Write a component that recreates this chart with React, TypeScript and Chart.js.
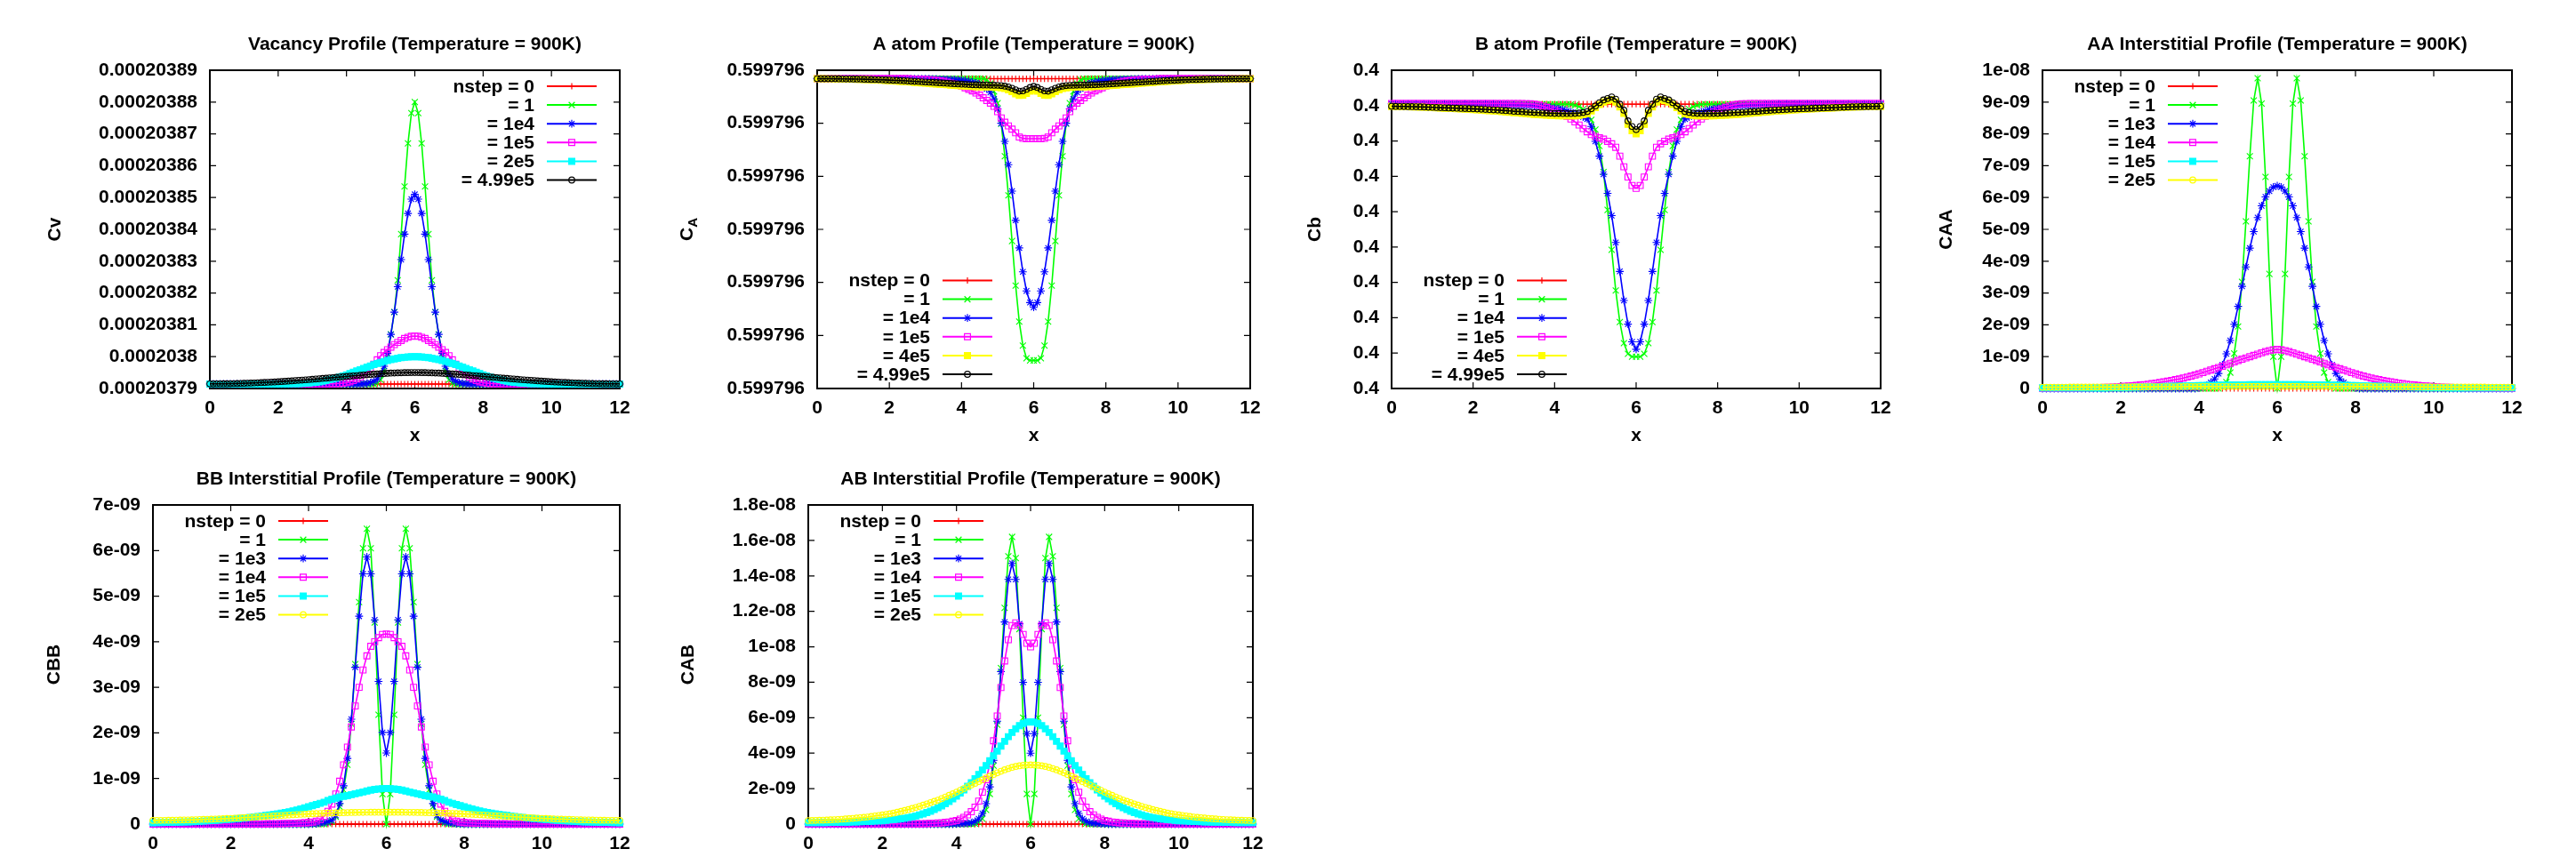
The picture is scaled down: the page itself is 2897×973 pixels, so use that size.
import React, { useEffect, useRef } from "react";
import { Chart, registerables } from "chart.js";

Chart.register(...registerables);

// ---------------- x grid (shared by every series) ----------------
const xGrid = [
  0,0.1,0.2,0.3,0.4,0.5,0.6,0.7,0.8,0.9,
  1,1.1,1.2,1.3,1.4,1.5,1.6,1.7,1.8,1.9,
  2,2.1,2.2,2.3,2.4,2.5,2.6,2.7,2.8,2.9,
  3,3.1,3.2,3.3,3.4,3.5,3.6,3.7,3.8,3.9,
  4,4.1,4.2,4.3,4.4,4.5,4.6,4.7,4.8,4.9,
  5,5.1,5.2,5.3,5.4,5.5,5.6,5.7,5.8,5.9,
  6,6.1,6.2,6.3,6.4,6.5,6.6,6.7,6.8,6.9,
  7,7.1,7.2,7.3,7.4,7.5,7.6,7.7,7.8,7.9,
  8,8.1,8.2,8.3,8.4,8.5,8.6,8.7,8.8,8.9,
  9,9.1,9.2,9.3,9.4,9.5,9.6,9.7,9.8,9.9,
  10,10.1,10.2,10.3,10.4,10.5,10.6,10.7,10.8,10.9,
  11,11.1,11.2,11.3,11.4,11.5,11.6,11.7,11.8,11.9,
  12
];
const xTicks = [0, 2, 4, 6, 8, 10, 12];

// ---------------- Panel 1: Vacancy (value = cvBase + v * cvUnit) ----------------
const cvBase = 0.00020379;
const cvUnit = 1e-9;
const cvTicks = [0.00020379,0.0002038,0.00020381,0.00020382,0.00020383,0.00020384,0.00020385,0.00020386,0.00020387,0.00020388,0.00020389];
const cvStep0 = [
  1.4,1.4,1.4,1.4,1.4,1.4,1.4,1.4,1.4,1.4,
  1.4,1.4,1.4,1.4,1.4,1.4,1.4,1.4,1.4,1.4,
  1.4,1.4,1.4,1.4,1.4,1.4,1.4,1.4,1.4,1.4,
  1.4,1.4,1.4,1.4,1.4,1.4,1.4,1.4,1.4,1.4,
  1.4,1.4,1.4,1.4,1.4,1.4,1.4,1.4,1.4,1.4,
  1.4,1.4,1.4,1.4,1.4,1.4,1.4,1.4,1.4,1.4,
  1.4,1.4,1.4,1.4,1.4,1.4,1.4,1.4,1.4,1.4,
  1.4,1.4,1.4,1.4,1.4,1.4,1.4,1.4,1.4,1.4,
  1.4,1.4,1.4,1.4,1.4,1.4,1.4,1.4,1.4,1.4,
  1.4,1.4,1.4,1.4,1.4,1.4,1.4,1.4,1.4,1.4,
  1.4,1.4,1.4,1.4,1.4,1.4,1.4,1.4,1.4,1.4,
  1.4,1.4,1.4,1.4,1.4,1.4,1.4,1.4,1.4,1.4,
  1.4
];
const cvStep1 = [
  1.4,1.4,1.4,1.4,1.4,1.4,1.4,1.4,1.4,1.4,
  1.4,1.4,1.4,1.4,1.4,1.4,1.4,1.4,1.4,1.4,
  1.4,1.4,1.4,1.4,1.4,1.4,1.4,1.4,1.4,1.4,
  1.4,1.4,1.4,1.4,1.4,1.4,1.4,1.4,1.4,1.4,
  1.4,1.4,1.4,1.4,1.4,1.4,1.4,1.4,1.4,1.6,
  2.7,5.5,10.5,17,24,34,48.5,63.5,77,86.5,
  90,86.5,77,63.5,48.5,34,24,17,10.5,5.5,
  2.7,1.6,1.4,1.4,1.4,1.4,1.4,1.4,1.4,1.4,
  1.4,1.4,1.4,1.4,1.4,1.4,1.4,1.4,1.4,1.4,
  1.4,1.4,1.4,1.4,1.4,1.4,1.4,1.4,1.4,1.4,
  1.4,1.4,1.4,1.4,1.4,1.4,1.4,1.4,1.4,1.4,
  1.4,1.4,1.4,1.4,1.4,1.4,1.4,1.4,1.4,1.4,
  1.4
];
const cvStep1e4 = [
  1.4,1.4,1.4,1.4,1.4,1.4,1.4,1.4,1.4,1.4,
  1.4,1.4,1.4,1.4,1.4,1.4,1.4,1.4,1.4,1.4,
  1.4,1.4,1.4,1.4,1.4,1.4,1.4,1.4,1.4,1.4,
  1.4,1.4,1.4,1.4,1.4,1.4,1.4,1.4,1.4,1.4,
  1.4,1.4,1.4,1.4,1.4,1.5,1.6,1.8,2.2,3.0,
  4.5,7,11,17,24,32,40.5,48.5,55,59.5,
  61,59.5,55,48.5,40.5,32,24,17,11,7,
  4.5,3.0,2.2,1.8,1.6,1.5,1.4,1.4,1.4,1.4,
  1.4,1.4,1.4,1.4,1.4,1.4,1.4,1.4,1.4,1.4,
  1.4,1.4,1.4,1.4,1.4,1.4,1.4,1.4,1.4,1.4,
  1.4,1.4,1.4,1.4,1.4,1.4,1.4,1.4,1.4,1.4,
  1.4,1.4,1.4,1.4,1.4,1.4,1.4,1.4,1.4,1.4,
  1.4
];
const cvStep1e5 = [
  1.4,1.4,1.4,1.4,1.4,1.4,1.4,1.4,1.4,1.4,
  1.4,1.4,1.4,1.4,1.4,1.4,1.4,1.4,1.4,1.4,
  1.4,1.4,1.4,1.4,1.4,1.4,1.4,1.4,1.4,1.4,
  1.4,1.4,1.4,1.42,1.45,1.47,1.5,1.55,1.6,1.7,
  1.85,2.1,2.5,3.0,3.6,4.4,5.3,6.4,7.6,9.0,
  10.3,11.3,12.2,13.0,13.8,14.5,15.1,15.7,16.1,16.4,
  16.5,16.4,16.1,15.7,15.1,14.5,13.8,13.0,12.2,11.3,
  10.3,9.0,7.6,6.4,5.3,4.4,3.6,3.0,2.5,2.1,
  1.85,1.7,1.6,1.55,1.5,1.47,1.45,1.42,1.4,1.4,
  1.4,1.4,1.4,1.4,1.4,1.4,1.4,1.4,1.4,1.4,
  1.4,1.4,1.4,1.4,1.4,1.4,1.4,1.4,1.4,1.4,
  1.4,1.4,1.4,1.4,1.4,1.4,1.4,1.4,1.4,1.4,
  1.4
];
const cvStep2e5 = [
  1.4,1.4,1.4,1.4,1.4,1.4,1.4,1.4,1.4,1.4,
  1.4,1.4,1.4,1.4,1.4,1.4,1.4,1.4,1.4,1.4,
  1.4,1.42,1.45,1.47,1.5,1.52,1.55,1.6,1.65,1.75,
  1.85,1.95,2.1,2.3,2.5,2.75,3.0,3.3,3.6,3.95,
  4.3,4.7,5.1,5.5,5.9,6.3,6.7,7.1,7.5,7.85,
  8.2,8.5,8.8,9.05,9.3,9.5,9.7,9.8,9.9,9.97,
  10.0,9.97,9.9,9.8,9.7,9.5,9.3,9.05,8.8,8.5,
  8.2,7.85,7.5,7.1,6.7,6.3,5.9,5.5,5.1,4.7,
  4.3,3.95,3.6,3.3,3.0,2.75,2.5,2.3,2.1,1.95,
  1.85,1.75,1.65,1.6,1.55,1.52,1.5,1.47,1.45,1.42,
  1.4,1.4,1.4,1.4,1.4,1.4,1.4,1.4,1.4,1.4,
  1.4,1.4,1.4,1.4,1.4,1.4,1.4,1.4,1.4,1.4,
  1.4
];
const cvStep499e3 = [
  1.45,1.45,1.46,1.47,1.48,1.5,1.52,1.54,1.57,1.6,
  1.63,1.67,1.71,1.75,1.8,1.85,1.9,1.95,2.0,2.06,
  2.12,2.19,2.26,2.33,2.4,2.48,2.56,2.64,2.72,2.8,
  2.88,2.97,3.06,3.15,3.24,3.33,3.42,3.51,3.6,3.69,
  3.78,3.87,3.96,4.05,4.14,4.23,4.32,4.41,4.49,4.57,
  4.64,4.71,4.77,4.83,4.88,4.92,4.95,4.97,4.99,5.0,
  5.0,5.0,4.99,4.97,4.95,4.92,4.88,4.83,4.77,4.71,
  4.64,4.57,4.49,4.41,4.32,4.23,4.14,4.05,3.96,3.87,
  3.78,3.69,3.6,3.51,3.42,3.33,3.24,3.15,3.06,2.97,
  2.88,2.8,2.72,2.64,2.56,2.48,2.4,2.33,2.26,2.19,
  2.12,2.06,2.0,1.95,1.9,1.85,1.8,1.75,1.71,1.67,
  1.63,1.6,1.57,1.54,1.52,1.5,1.48,1.47,1.46,1.45,
  1.45
];

// ---------------- Panel 2: A atom (value = caBase + v * caUnit) ----------------
const caBase = 0.599796;
const caUnit = 1e-9;
const caTicks = [0.599796,0.59979601,0.59979602,0.59979603,0.59979604,0.59979605,0.59979606];
const caStep0 = [
  58.4,58.4,58.4,58.4,58.4,58.4,58.4,58.4,58.4,58.4,
  58.4,58.4,58.4,58.4,58.4,58.4,58.4,58.4,58.4,58.4,
  58.4,58.4,58.4,58.4,58.4,58.4,58.4,58.4,58.4,58.4,
  58.4,58.4,58.4,58.4,58.4,58.4,58.4,58.4,58.4,58.4,
  58.4,58.4,58.4,58.4,58.4,58.4,58.4,58.4,58.4,58.4,
  58.4,58.4,58.4,58.4,58.4,58.4,58.4,58.4,58.4,58.4,
  58.4,58.4,58.4,58.4,58.4,58.4,58.4,58.4,58.4,58.4,
  58.4,58.4,58.4,58.4,58.4,58.4,58.4,58.4,58.4,58.4,
  58.4,58.4,58.4,58.4,58.4,58.4,58.4,58.4,58.4,58.4,
  58.4,58.4,58.4,58.4,58.4,58.4,58.4,58.4,58.4,58.4,
  58.4,58.4,58.4,58.4,58.4,58.4,58.4,58.4,58.4,58.4,
  58.4,58.4,58.4,58.4,58.4,58.4,58.4,58.4,58.4,58.4,
  58.4
];
const caStep1 = [
  58.4,58.4,58.4,58.4,58.4,58.4,58.4,58.4,58.4,58.4,
  58.4,58.4,58.4,58.4,58.4,58.4,58.4,58.4,58.4,58.4,
  58.4,58.4,58.4,58.4,58.4,58.4,58.4,58.4,58.4,58.4,
  58.4,58.4,58.4,58.4,58.4,58.4,58.4,58.4,58.4,58.4,
  58.4,58.4,58.4,58.4,58.4,58.4,58.4,58.2,57.5,56.0,
  53.8,49.9,43.8,36.4,27.8,19.4,12.6,8.1,5.7,5.3,
  5.3,5.3,5.7,8.1,12.6,19.4,27.8,36.4,43.8,49.9,
  53.8,56.0,57.5,58.2,58.4,58.4,58.4,58.4,58.4,58.4,
  58.4,58.4,58.4,58.4,58.4,58.4,58.4,58.4,58.4,58.4,
  58.4,58.4,58.4,58.4,58.4,58.4,58.4,58.4,58.4,58.4,
  58.4,58.4,58.4,58.4,58.4,58.4,58.4,58.4,58.4,58.4,
  58.4,58.4,58.4,58.4,58.4,58.4,58.4,58.4,58.4,58.4,
  58.4
];
const caStep1e4 = [
  58.4,58.4,58.4,58.4,58.4,58.4,58.4,58.4,58.4,58.4,
  58.4,58.4,58.4,58.4,58.4,58.4,58.4,58.4,58.4,58.4,
  58.4,58.4,58.4,58.4,58.4,58.4,58.4,58.4,58.4,58.4,
  58.4,58.38,58.35,58.33,58.3,58.28,58.25,58.22,58.2,58.15,
  58.1,58.0,57.9,57.75,57.6,57.3,57.0,56.5,55.8,54.6,
  52.7,50.0,46.6,42.2,37.2,31.7,26.5,22.0,18.4,16.2,
  15.3,16.2,18.4,22.0,26.5,31.7,37.2,42.2,46.6,50.0,
  52.7,54.6,55.8,56.5,57.0,57.3,57.6,57.75,57.9,58.0,
  58.1,58.15,58.2,58.22,58.25,58.28,58.3,58.33,58.35,58.38,
  58.4,58.4,58.4,58.4,58.4,58.4,58.4,58.4,58.4,58.4,
  58.4,58.4,58.4,58.4,58.4,58.4,58.4,58.4,58.4,58.4,
  58.4,58.4,58.4,58.4,58.4,58.4,58.4,58.4,58.4,58.4,
  58.4
];
const caStep1e5 = [
  58.4,58.4,58.4,58.4,58.4,58.4,58.4,58.4,58.4,58.4,
  58.4,58.4,58.4,58.4,58.4,58.4,58.4,58.4,58.4,58.4,
  58.4,58.4,58.4,58.4,58.4,58.4,58.37,58.35,58.32,58.3,
  58.25,58.2,58.15,58.1,58.0,57.9,57.75,57.6,57.4,57.2,
  57.0,56.7,56.4,56.1,55.7,55.3,54.8,54.3,53.8,53.2,
  52.2,51.0,50.2,49.5,48.9,48.2,47.4,47.15,47.1,47.1,
  47.1,47.1,47.1,47.15,47.4,48.2,48.9,49.5,50.2,51.0,
  52.2,53.2,53.8,54.3,54.8,55.3,55.7,56.1,56.4,56.7,
  57.0,57.2,57.4,57.6,57.75,57.9,58.0,58.1,58.15,58.2,
  58.25,58.3,58.32,58.35,58.37,58.4,58.4,58.4,58.4,58.4,
  58.4,58.4,58.4,58.4,58.4,58.4,58.4,58.4,58.4,58.4,
  58.4,58.4,58.4,58.4,58.4,58.4,58.4,58.4,58.4,58.4,
  58.4
];
const caStep4e5 = [
  58.4,58.4,58.4,58.39,58.38,58.37,58.36,58.35,58.34,58.32,
  58.3,58.28,58.26,58.24,58.22,58.19,58.16,58.13,58.1,58.06,
  58.02,57.98,57.94,57.9,57.85,57.8,57.75,57.7,57.65,57.6,
  57.55,57.5,57.45,57.4,57.35,57.3,57.25,57.2,57.15,57.1,
  57.05,57.0,56.96,56.93,56.9,56.88,56.86,56.85,56.84,56.82,
  56.78,56.7,56.55,56.3,55.95,55.55,55.25,55.3,55.65,56.05,
  56.3,56.05,55.65,55.3,55.25,55.55,55.95,56.3,56.55,56.7,
  56.78,56.82,56.84,56.85,56.86,56.88,56.9,56.93,56.96,57.0,
  57.05,57.1,57.15,57.2,57.25,57.3,57.35,57.4,57.45,57.5,
  57.55,57.6,57.65,57.7,57.75,57.8,57.85,57.9,57.94,57.98,
  58.02,58.06,58.1,58.13,58.16,58.19,58.22,58.24,58.26,58.28,
  58.3,58.32,58.34,58.35,58.36,58.37,58.38,58.39,58.4,58.4,
  58.4
];
const caStep499e3 = [
  58.4,58.4,58.4,58.4,58.4,58.39,58.38,58.37,58.36,58.35,
  58.34,58.33,58.32,58.3,58.28,58.26,58.24,58.22,58.2,58.17,
  58.14,58.11,58.08,58.05,58.02,57.98,57.94,57.9,57.86,57.82,
  57.78,57.74,57.7,57.66,57.62,57.58,57.54,57.5,57.46,57.42,
  57.38,57.34,57.3,57.27,57.24,57.22,57.2,57.19,57.18,57.17,
  57.15,57.1,57.0,56.85,56.6,56.3,56.05,56.1,56.4,56.75,
  56.95,56.75,56.4,56.1,56.05,56.3,56.6,56.85,57.0,57.1,
  57.15,57.17,57.18,57.19,57.2,57.22,57.24,57.27,57.3,57.34,
  57.38,57.42,57.46,57.5,57.54,57.58,57.62,57.66,57.7,57.74,
  57.78,57.82,57.86,57.9,57.94,57.98,58.02,58.05,58.08,58.11,
  58.14,58.17,58.2,58.22,58.24,58.26,58.28,58.3,58.32,58.33,
  58.34,58.35,58.36,58.37,58.38,58.39,58.4,58.4,58.4,58.4,
  58.4
];

// ---------------- Panel 3: B atom (value = cbBase + v * cbUnit) ----------------
const cbBase = 0.39999991;
const cbUnit = 1e-9;
const cbTicks = [0.39999991,0.39999992,0.39999993,0.39999994,0.39999995,0.39999996,0.39999997,0.39999998,0.39999999,0.4];
const cbStep0 = [
  80.4,80.4,80.4,80.4,80.4,80.4,80.4,80.4,80.4,80.4,
  80.4,80.4,80.4,80.4,80.4,80.4,80.4,80.4,80.4,80.4,
  80.4,80.4,80.4,80.4,80.4,80.4,80.4,80.4,80.4,80.4,
  80.4,80.4,80.4,80.4,80.4,80.4,80.4,80.4,80.4,80.4,
  80.4,80.4,80.4,80.4,80.4,80.4,80.4,80.4,80.4,80.4,
  80.4,80.4,80.4,80.4,80.4,80.4,80.4,80.4,80.4,80.4,
  80.4,80.4,80.4,80.4,80.4,80.4,80.4,80.4,80.4,80.4,
  80.4,80.4,80.4,80.4,80.4,80.4,80.4,80.4,80.4,80.4,
  80.4,80.4,80.4,80.4,80.4,80.4,80.4,80.4,80.4,80.4,
  80.4,80.4,80.4,80.4,80.4,80.4,80.4,80.4,80.4,80.4,
  80.4,80.4,80.4,80.4,80.4,80.4,80.4,80.4,80.4,80.4,
  80.4,80.4,80.4,80.4,80.4,80.4,80.4,80.4,80.4,80.4,
  80.4
];
const cbStep1 = [
  80.4,80.4,80.4,80.4,80.4,80.4,80.4,80.4,80.4,80.4,
  80.4,80.4,80.4,80.4,80.4,80.4,80.4,80.4,80.4,80.4,
  80.4,80.4,80.4,80.4,80.4,80.4,80.4,80.4,80.4,80.4,
  80.4,80.4,80.4,80.4,80.4,80.4,80.4,80.4,80.4,80.4,
  80.4,80.4,80.4,80.4,80.3,80.1,79.7,79.0,77.8,76.0,
  73.2,68.6,61.2,50.5,39.2,27.7,18.8,12.8,9.8,9.0,
  9.0,9.0,9.8,12.8,18.8,27.7,39.2,50.5,61.2,68.6,
  73.2,76.0,77.8,79.0,79.7,80.1,80.3,80.4,80.4,80.4,
  80.4,80.4,80.4,80.4,80.4,80.4,80.4,80.4,80.4,80.4,
  80.4,80.4,80.4,80.4,80.4,80.4,80.4,80.4,80.4,80.4,
  80.4,80.4,80.4,80.4,80.4,80.4,80.4,80.4,80.4,80.4,
  80.4,80.4,80.4,80.4,80.4,80.4,80.4,80.4,80.4,80.4,
  80.4
];
const cbStep1e4 = [
  80.5,80.5,80.5,80.5,80.5,80.5,80.5,80.5,80.5,80.5,
  80.5,80.5,80.5,80.5,80.5,80.5,80.5,80.5,80.5,80.5,
  80.5,80.5,80.5,80.5,80.5,80.45,80.4,80.35,80.3,80.25,
  80.2,80.15,80.1,80.05,80.0,79.9,79.8,79.7,79.6,79.45,
  79.3,79.1,78.85,78.5,78.2,77.8,77.4,76.8,76.2,74.1,
  69.9,65.7,60.6,55.2,48.9,41.3,33.1,24.9,18.2,13.2,
  11.1,13.2,18.2,24.9,33.1,41.3,48.9,55.2,60.6,65.7,
  69.9,74.1,76.2,76.8,77.4,77.8,78.2,78.5,78.85,79.1,
  79.3,79.45,79.6,79.7,79.8,79.9,80.0,80.05,80.1,80.15,
  80.2,80.25,80.3,80.35,80.4,80.45,80.5,80.5,80.5,80.5,
  80.5,80.5,80.5,80.5,80.5,80.5,80.5,80.5,80.5,80.5,
  80.5,80.5,80.5,80.5,80.5,80.5,80.5,80.5,80.5,80.5,
  80.5
];
const cbStep1e5 = [
  80.6,80.6,80.6,80.6,80.6,80.6,80.6,80.6,80.6,80.6,
  80.6,80.6,80.6,80.6,80.6,80.6,80.6,80.6,80.6,80.6,
  80.6,80.6,80.6,80.6,80.6,80.6,80.6,80.6,80.6,80.6,
  80.6,80.6,80.6,80.55,80.5,80.4,80.2,79.9,79.5,79.1,
  78.7,78.2,77.7,77.0,76.2,75.4,74.5,73.5,72.6,71.8,
  71.3,70.9,70.5,69.9,69.2,68.2,65.7,62.7,59.8,57.4,
  56.6,57.4,59.8,62.7,65.7,68.2,69.2,69.9,70.5,70.9,
  71.3,71.8,72.6,73.5,74.5,75.4,76.2,77.0,77.7,78.2,
  78.7,79.1,79.5,79.9,80.2,80.4,80.5,80.55,80.6,80.6,
  80.6,80.6,80.6,80.6,80.6,80.6,80.6,80.6,80.6,80.6,
  80.6,80.6,80.6,80.6,80.6,80.6,80.6,80.6,80.6,80.6,
  80.6,80.6,80.6,80.6,80.6,80.6,80.6,80.6,80.6,80.6,
  80.6
];
const cbStep4e5 = [
  79.75,79.73,79.71,79.69,79.67,79.64,79.61,79.57,79.53,79.48,
  79.42,79.37,79.32,79.27,79.22,79.17,79.12,79.06,79.0,78.94,
  78.88,78.8,78.72,78.64,78.56,78.48,78.4,78.3,78.2,78.1,
  78.0,77.9,77.8,77.7,77.6,77.5,77.42,77.35,77.28,77.22,
  77.17,77.13,77.1,77.08,77.08,77.12,77.22,77.4,77.7,78.5,
  79.4,80.3,81.0,81.4,81.7,81.0,79.6,77.8,74.7,72.9,
  72.0,72.9,74.7,77.8,79.6,81.0,81.7,81.4,81.0,80.3,
  79.4,78.5,77.7,77.4,77.22,77.12,77.08,77.08,77.1,77.13,
  77.17,77.22,77.28,77.35,77.42,77.5,77.6,77.7,77.8,77.9,
  78.0,78.1,78.2,78.3,78.4,78.48,78.56,78.64,78.72,78.8,
  78.88,78.94,79.0,79.06,79.12,79.17,79.22,79.27,79.32,79.37,
  79.42,79.48,79.53,79.57,79.61,79.64,79.67,79.69,79.71,79.73,
  79.75
];
const cbStep499e3 = [
  79.8,79.78,79.76,79.74,79.72,79.7,79.67,79.64,79.6,79.55,
  79.5,79.46,79.42,79.38,79.34,79.3,79.26,79.22,79.18,79.14,
  79.1,79.04,78.98,78.92,78.86,78.8,78.73,78.66,78.59,78.5,
  78.4,78.33,78.26,78.19,78.12,78.05,78.0,77.95,77.9,77.85,
  77.8,77.78,77.76,77.75,77.75,77.8,77.9,78.05,78.3,79.1,
  79.9,80.8,81.6,82.0,82.45,81.8,80.4,78.7,75.7,74.1,
  73.2,74.1,75.7,78.7,80.4,81.8,82.45,82.0,81.6,80.8,
  79.9,79.1,78.3,78.05,77.9,77.8,77.75,77.75,77.76,77.78,
  77.8,77.85,77.9,77.95,78.0,78.05,78.12,78.19,78.26,78.33,
  78.4,78.5,78.59,78.66,78.73,78.8,78.86,78.92,78.98,79.04,
  79.1,79.14,79.18,79.22,79.26,79.3,79.34,79.38,79.42,79.46,
  79.5,79.55,79.6,79.64,79.67,79.7,79.72,79.74,79.76,79.78,
  79.8
];

// ---------------- Panel 4: AA interstitial (value = v * 1e-9) ----------------
const intUnit = 1e-9;
const aaTicks = [0,1e-9,2e-9,3e-9,4e-9,5e-9,6e-9,7e-9,8e-9,9e-9,1e-8];
const aaStep0 = [
  0,0,0,0,0,0,0,0,0,0, 0,0,0,0,0,0,0,0,0,0, 0,0,0,0,0,0,0,0,0,0, 0,0,0,0,0,0,0,0,0,0,
  0,0,0,0,0,0,0,0,0,0, 0,0,0,0,0,0,0,0,0,0, 0,0,0,0,0,0,0,0,0,0, 0,0,0,0,0,0,0,0,0,0,
  0,0,0,0,0,0,0,0,0,0, 0,0,0,0,0,0,0,0,0,0, 0,0,0,0,0,0,0,0,0,0, 0,0,0,0,0,0,0,0,0,0,
  0
];
const aaStep1 = [
  0,0,0,0,0,0,0,0,0,0, 0,0,0,0,0,0,0,0,0,0, 0,0,0,0,0,0,0,0,0,0, 0,0,0,0,0,0,0,0,0,0,
  0,0,0,0,0,0,0.05,0.2,0.5,1.1,
  1.95,3.35,5.25,7.3,9.05,9.75,8.95,6.65,3.6,1.0,
  0,1.0,3.6,6.65,8.95,9.75,9.05,7.3,5.25,3.35,
  1.95,1.1,0.5,0.2,0.05,0,0,0,0,0,
  0,0,0,0,0,0,0,0,0,0, 0,0,0,0,0,0,0,0,0,0, 0,0,0,0,0,0,0,0,0,0, 0,0,0,0,0,0,0,0,0,0,
  0
];
const aaStep1e3 = [
  0,0,0,0,0,0,0,0,0,0, 0,0,0,0,0,0,0,0,0,0, 0,0,0,0,0,0,0,0,0,0, 0,0,0,0,0,0,0,0,0,0,
  0.02,0.05,0.1,0.19,0.3,0.47,0.74,1.09,1.51,2.02,
  2.58,3.21,3.82,4.41,4.93,5.37,5.74,6.02,6.2,6.33,
  6.37,6.33,6.2,6.02,5.74,5.37,4.93,4.41,3.82,3.21,
  2.58,2.02,1.51,1.09,0.74,0.47,0.3,0.19,0.1,0.05,
  0.02,0,0,0,0,0,0,0,0,0,
  0,0,0,0,0,0,0,0,0,0, 0,0,0,0,0,0,0,0,0,0, 0,0,0,0,0,0,0,0,0,0,
  0
];
const aaStep1e4 = [
  0.005,0.005,0.006,0.007,0.008,0.009,0.01,0.011,0.012,0.014,
  0.016,0.018,0.02,0.023,0.026,0.03,0.034,0.039,0.045,0.052,
  0.06,0.068,0.077,0.087,0.098,0.11,0.123,0.137,0.153,0.17,
  0.19,0.21,0.23,0.255,0.28,0.3,0.33,0.36,0.39,0.425,
  0.46,0.5,0.54,0.58,0.62,0.66,0.7,0.745,0.79,0.835,
  0.88,0.92,0.96,1.0,1.04,1.08,1.12,1.16,1.19,1.215,
  1.23,1.215,1.19,1.16,1.12,1.08,1.04,1.0,0.96,0.92,
  0.88,0.835,0.79,0.745,0.7,0.66,0.62,0.58,0.54,0.5,
  0.46,0.425,0.39,0.36,0.33,0.3,0.28,0.255,0.23,0.21,
  0.19,0.17,0.153,0.137,0.123,0.11,0.098,0.087,0.077,0.068,
  0.06,0.052,0.045,0.039,0.034,0.03,0.026,0.023,0.02,0.018,
  0.016,0.014,0.012,0.011,0.01,0.009,0.008,0.007,0.006,0.005,
  0.005
];
const aaStep1e5 = [
  0.02,0.02,0.02,0.02,0.02,0.02,0.02,0.02,0.02,0.02,
  0.02,0.02,0.02,0.02,0.02,0.02,0.022,0.024,0.026,0.028,
  0.03,0.033,0.036,0.039,0.042,0.045,0.048,0.051,0.054,0.057,
  0.06,0.063,0.066,0.069,0.072,0.075,0.078,0.081,0.084,0.087,
  0.09,0.093,0.096,0.099,0.102,0.104,0.106,0.108,0.11,0.112,
  0.114,0.115,0.116,0.117,0.118,0.119,0.12,0.12,0.12,0.12,
  0.12,0.12,0.12,0.12,0.12,0.119,0.118,0.117,0.116,0.115,
  0.114,0.112,0.11,0.108,0.106,0.104,0.102,0.099,0.096,0.093,
  0.09,0.087,0.084,0.081,0.078,0.075,0.072,0.069,0.066,0.063,
  0.06,0.057,0.054,0.051,0.048,0.045,0.042,0.039,0.036,0.033,
  0.03,0.028,0.026,0.024,0.022,0.02,0.02,0.02,0.02,0.02,
  0.02,0.02,0.02,0.02,0.02,0.02,0.02,0.02,0.02,0.02,
  0.02
];
const aaStep2e5 = [
  0.04,0.04,0.04,0.041,0.041,0.042,0.042,0.043,0.043,0.044,
  0.044,0.045,0.045,0.046,0.046,0.047,0.047,0.048,0.048,0.049,
  0.049,0.05,0.05,0.051,0.051,0.052,0.052,0.053,0.053,0.054,
  0.054,0.055,0.055,0.056,0.056,0.057,0.057,0.058,0.058,0.059,
  0.059,0.06,0.06,0.061,0.061,0.062,0.062,0.063,0.063,0.063,
  0.064,0.064,0.064,0.065,0.065,0.065,0.065,0.065,0.065,0.065,
  0.065,0.065,0.065,0.065,0.065,0.065,0.065,0.065,0.064,0.064,
  0.064,0.063,0.063,0.063,0.062,0.062,0.061,0.061,0.06,0.06,
  0.059,0.059,0.058,0.058,0.057,0.057,0.056,0.056,0.055,0.055,
  0.054,0.054,0.053,0.053,0.052,0.052,0.051,0.051,0.05,0.05,
  0.049,0.049,0.048,0.048,0.047,0.047,0.046,0.046,0.045,0.045,
  0.044,0.044,0.043,0.043,0.042,0.042,0.041,0.041,0.04,0.04,
  0.04
];

// ---------------- Panel 5: BB interstitial ----------------
const bbTicks = [0,1e-9,2e-9,3e-9,4e-9,5e-9,6e-9,7e-9];
const bbStep0 = [
  0,0,0,0,0,0,0,0,0,0, 0,0,0,0,0,0,0,0,0,0, 0,0,0,0,0,0,0,0,0,0, 0,0,0,0,0,0,0,0,0,0,
  0,0,0,0,0,0,0,0,0,0, 0,0,0,0,0,0,0,0,0,0, 0,0,0,0,0,0,0,0,0,0, 0,0,0,0,0,0,0,0,0,0,
  0,0,0,0,0,0,0,0,0,0, 0,0,0,0,0,0,0,0,0,0, 0,0,0,0,0,0,0,0,0,0, 0,0,0,0,0,0,0,0,0,0,
  0
];
const bbStep1 = [
  0,0,0,0,0,0,0,0,0,0, 0,0,0,0,0,0,0,0,0,0, 0,0,0,0,0,0,0,0,0,0, 0,0,0,0,0,0,0,0,0,0,
  0,0,0,0,0,0.02,0.06,0.16,0.38,0.75,
  1.3,2.2,3.51,4.87,6.05,6.48,6.05,4.42,2.4,0.66,
  0,0.66,2.4,4.42,6.05,6.48,6.05,4.87,3.51,2.2,
  1.3,0.75,0.38,0.16,0.06,0.02,0,0,0,0,
  0,0,0,0,0,0,0,0,0,0, 0,0,0,0,0,0,0,0,0,0, 0,0,0,0,0,0,0,0,0,0, 0,0,0,0,0,0,0,0,0,0,
  0
];
const bbStep1e3 = [
  0,0,0,0,0,0,0,0,0,0, 0,0,0,0,0,0,0,0,0,0, 0,0,0,0,0,0,0,0,0,0, 0,0,0,0,0,0,0,0,0,0,
  0,0.005,0.01,0.02,0.03,0.05,0.09,0.19,0.45,0.84,
  1.44,2.3,3.44,4.56,5.49,5.86,5.49,4.48,3.13,2.01,
  1.56,2.01,3.13,4.48,5.49,5.86,5.49,4.56,3.44,2.3,
  1.44,0.84,0.45,0.19,0.09,0.05,0.03,0.02,0.01,0.005,
  0,0,0,0,0,0,0,0,0,0, 0,0,0,0,0,0,0,0,0,0, 0,0,0,0,0,0,0,0,0,0, 0,0,0,0,0,0,0,0,0,0,
  0
];
const bbStep1e4 = [
  0,0,0,0,0,0,0,0,0,0, 0,0,0,0,0,0,0,0,0,0,
  0,0,0,0,0,0,0,0,0,0.005,
  0.006,0.007,0.008,0.01,0.012,0.014,0.016,0.02,0.024,0.028,
  0.034,0.045,0.065,0.1,0.17,0.28,0.44,0.66,0.94,1.3,
  1.69,2.13,2.59,3.0,3.38,3.69,3.9,4.0,4.09,4.16,
  4.17,4.16,4.09,4.0,3.9,3.69,3.38,3.0,2.59,2.13,
  1.69,1.3,0.94,0.66,0.44,0.28,0.17,0.1,0.065,0.045,
  0.034,0.028,0.024,0.02,0.016,0.014,0.012,0.01,0.008,0.007,
  0.006,0.005,0,0,0,0,0,0,0,0,
  0,0,0,0,0,0,0,0,0,0, 0,0,0,0,0,0,0,0,0,0,
  0
];
const bbStep1e5 = [
  0.03,0.032,0.034,0.036,0.038,0.04,0.042,0.044,0.047,0.05,
  0.053,0.057,0.061,0.066,0.071,0.076,0.082,0.088,0.094,0.1,
  0.107,0.114,0.122,0.13,0.139,0.148,0.158,0.168,0.179,0.19,
  0.2,0.212,0.225,0.24,0.255,0.27,0.29,0.31,0.335,0.357,
  0.38,0.405,0.43,0.455,0.48,0.52,0.545,0.57,0.595,0.61,
  0.625,0.645,0.665,0.685,0.705,0.725,0.745,0.76,0.77,0.777,
  0.78,0.777,0.77,0.76,0.745,0.725,0.705,0.685,0.665,0.645,
  0.625,0.61,0.595,0.57,0.545,0.52,0.48,0.455,0.43,0.405,
  0.38,0.357,0.335,0.31,0.29,0.27,0.255,0.24,0.225,0.212,
  0.2,0.19,0.179,0.168,0.158,0.148,0.139,0.13,0.122,0.114,
  0.107,0.1,0.094,0.088,0.082,0.076,0.071,0.066,0.061,0.057,
  0.053,0.05,0.047,0.044,0.042,0.04,0.038,0.036,0.034,0.032,
  0.03
];
const bbStep2e5 = [
  0.08,0.081,0.082,0.083,0.084,0.085,0.087,0.089,0.091,0.093,
  0.095,0.097,0.1,0.103,0.106,0.109,0.112,0.115,0.119,0.123,
  0.127,0.131,0.135,0.14,0.145,0.15,0.155,0.16,0.165,0.17,
  0.175,0.18,0.185,0.19,0.195,0.2,0.205,0.21,0.214,0.218,
  0.222,0.226,0.23,0.234,0.237,0.24,0.243,0.246,0.248,0.25,
  0.252,0.254,0.255,0.256,0.257,0.258,0.259,0.26,0.26,0.26,
  0.26,0.26,0.26,0.26,0.259,0.258,0.257,0.256,0.255,0.254,
  0.252,0.25,0.248,0.246,0.243,0.24,0.237,0.234,0.23,0.226,
  0.222,0.218,0.214,0.21,0.205,0.2,0.195,0.19,0.185,0.18,
  0.175,0.17,0.165,0.16,0.155,0.15,0.145,0.14,0.135,0.131,
  0.127,0.123,0.119,0.115,0.112,0.109,0.106,0.103,0.1,0.097,
  0.095,0.093,0.091,0.089,0.087,0.085,0.084,0.083,0.082,0.081,
  0.08
];

// ---------------- Panel 6: AB interstitial ----------------
const abTicks = [0,2e-9,4e-9,6e-9,8e-9,1e-8,1.2e-8,1.4e-8,1.6e-8,1.8e-8];
const abStep0 = [
  0,0,0,0,0,0,0,0,0,0, 0,0,0,0,0,0,0,0,0,0, 0,0,0,0,0,0,0,0,0,0, 0,0,0,0,0,0,0,0,0,0,
  0,0,0,0,0,0,0,0,0,0, 0,0,0,0,0,0,0,0,0,0, 0,0,0,0,0,0,0,0,0,0, 0,0,0,0,0,0,0,0,0,0,
  0,0,0,0,0,0,0,0,0,0, 0,0,0,0,0,0,0,0,0,0, 0,0,0,0,0,0,0,0,0,0, 0,0,0,0,0,0,0,0,0,0,
  0
];
const abStep1 = [
  0,0,0,0,0,0,0,0,0,0, 0,0,0,0,0,0,0,0,0,0, 0,0,0,0,0,0,0,0,0,0, 0,0,0,0,0,0,0,0,0,0,
  0,0,0,0,0,0.03,0.1,0.3,0.8,1.7,
  3.3,5.6,8.8,12.2,15.1,16.2,15.0,11.0,6.0,1.7,
  0,1.7,6.0,11.0,15.0,16.2,15.1,12.2,8.8,5.6,
  3.3,1.7,0.8,0.3,0.1,0.03,0,0,0,0,
  0,0,0,0,0,0,0,0,0,0, 0,0,0,0,0,0,0,0,0,0, 0,0,0,0,0,0,0,0,0,0, 0,0,0,0,0,0,0,0,0,0,
  0
];
const abStep1e3 = [
  0,0,0,0,0,0,0,0,0,0, 0,0,0,0,0,0,0,0,0,0, 0,0,0,0,0,0,0,0,0,0, 0,0,0,0,0,0,0,0,0,0,
  0.01,0.02,0.03,0.05,0.07,0.15,0.3,0.6,1.15,2.1,
  3.6,5.8,8.6,11.4,13.8,14.7,13.8,11.3,8.0,5.1,
  4.0,5.1,8.0,11.3,13.8,14.7,13.8,11.4,8.6,5.8,
  3.6,2.1,1.15,0.6,0.3,0.15,0.07,0.05,0.03,0.02,
  0.01,0,0,0,0,0,0,0,0,0,
  0,0,0,0,0,0,0,0,0,0, 0,0,0,0,0,0,0,0,0,0, 0,0,0,0,0,0,0,0,0,0,
  0
];
const abStep1e4 = [
  0.01,0.01,0.01,0.01,0.01,0.01,0.01,0.01,0.01,0.01,
  0.01,0.01,0.01,0.01,0.01,0.01,0.01,0.01,0.01,0.01,
  0.01,0.01,0.01,0.01,0.01,0.01,0.01,0.01,0.01,0.01,
  0.015,0.02,0.025,0.035,0.045,0.06,0.07,0.1,0.12,0.16,
  0.2,0.28,0.38,0.52,0.7,0.95,1.3,1.8,2.5,3.4,
  4.7,6.1,7.7,9.2,10.4,11.2,11.35,11.2,10.7,10.2,
  10.0,10.2,10.7,11.2,11.35,11.2,10.4,9.2,7.7,6.1,
  4.7,3.4,2.5,1.8,1.3,0.95,0.7,0.52,0.38,0.28,
  0.2,0.16,0.12,0.1,0.07,0.06,0.045,0.035,0.025,0.02,
  0.015,0.01,0.01,0.01,0.01,0.01,0.01,0.01,0.01,0.01,
  0.01,0.01,0.01,0.01,0.01,0.01,0.01,0.01,0.01,0.01,
  0.01,0.01,0.01,0.01,0.01,0.01,0.01,0.01,0.01,0.01,
  0.01
];
const abStep1e5 = [
  0.08,0.082,0.084,0.086,0.088,0.09,0.093,0.096,0.1,0.104,
  0.11,0.115,0.12,0.127,0.134,0.142,0.15,0.16,0.17,0.18,
  0.19,0.21,0.23,0.25,0.27,0.3,0.33,0.37,0.41,0.46,
  0.52,0.58,0.65,0.73,0.82,0.92,1.03,1.15,1.28,1.42,
  1.58,1.75,1.93,2.13,2.34,2.56,2.8,3.05,3.3,3.57,
  3.85,4.12,4.4,4.67,4.93,5.17,5.38,5.55,5.67,5.75,
  5.77,5.75,5.67,5.55,5.38,5.17,4.93,4.67,4.4,4.12,
  3.85,3.57,3.3,3.05,2.8,2.56,2.34,2.13,1.93,1.75,
  1.58,1.42,1.28,1.15,1.03,0.92,0.82,0.73,0.65,0.58,
  0.52,0.46,0.41,0.37,0.33,0.3,0.27,0.25,0.23,0.21,
  0.19,0.18,0.17,0.16,0.15,0.142,0.134,0.127,0.12,0.115,
  0.11,0.104,0.1,0.096,0.093,0.09,0.088,0.086,0.084,0.082,
  0.08
];
const abStep2e5 = [
  0.2,0.205,0.21,0.215,0.22,0.23,0.24,0.25,0.26,0.275,
  0.29,0.305,0.32,0.34,0.36,0.38,0.4,0.43,0.46,0.49,
  0.52,0.55,0.58,0.62,0.67,0.72,0.77,0.82,0.88,0.94,
  1.0,1.07,1.14,1.21,1.28,1.35,1.44,1.53,1.62,1.71,
  1.8,1.9,2.0,2.1,2.2,2.3,2.4,2.5,2.6,2.7,
  2.8,2.89,2.98,3.06,3.13,3.2,3.25,3.29,3.32,3.33,
  3.34,3.33,3.32,3.29,3.25,3.2,3.13,3.06,2.98,2.89,
  2.8,2.7,2.6,2.5,2.4,2.3,2.2,2.1,2.0,1.9,
  1.8,1.71,1.62,1.53,1.44,1.35,1.28,1.21,1.14,1.07,
  1.0,0.94,0.88,0.82,0.77,0.72,0.67,0.62,0.58,0.55,
  0.52,0.49,0.46,0.43,0.4,0.38,0.36,0.34,0.32,0.305,
  0.29,0.275,0.26,0.25,0.24,0.23,0.22,0.215,0.21,0.205,
  0.2
];

// ---------------- legend labels, titles, colours ----------------
const labelsVac = ["nstep = 0", "= 1", "= 1e4", "= 1e5", "= 2e5", "= 4.99e5"];
const labelsAtom = ["nstep = 0", "= 1", "= 1e4", "= 1e5", "= 4e5", "= 4.99e5"];
const labelsInt = ["nstep = 0", "= 1", "= 1e3", "= 1e4", "= 1e5", "= 2e5"];
const colorsVac = ["#ff0000", "#00ff00", "#0000ff", "#ff00ff", "#00ffff", "#000000"];
const colorsAtom = ["#ff0000", "#00ff00", "#0000ff", "#ff00ff", "#ffff00", "#000000"];
const colorsInt = ["#ff0000", "#00ff00", "#0000ff", "#ff00ff", "#00ffff", "#ffff00"];

// gnuplot point types 1..6: +, x, *, open square, filled square, open circle
const MARKERS = [
  { style: "cross", r: 3.6, fill: false },
  { style: "crossRot", r: 4.8, fill: false },
  { style: "star", r: 4.4, fill: false },
  { style: "rect", r: 4.8, fill: false },
  { style: "rect", r: 4.8, fill: true },
  { style: "circle", r: 3.3, fill: false },
];

const FONT_FAMILY = '"Liberation Sans", Arial, Helvetica, sans-serif';
const FONT_SIZE = 21;

const PANELS = [
  {
    title: "Vacancy Profile (Temperature = 900K)", yLabel: "Cv", ySub: "",
    base: cvBase, unit: cvUnit, yTicks: cvTicks,
    series: [cvStep0, cvStep1, cvStep1e4, cvStep1e5, cvStep2e5, cvStep499e3],
    labels: labelsVac, colors: colorsVac, legend: "tr", xLabel: true,
    box: { x: 0, y: 0, w: 724, h: 505 }, plot: { l: 236, t: 79, r: 697, b: 437 }, yLabelX: 60,
  },
  {
    title: "A atom Profile (Temperature = 900K)", yLabel: "C", ySub: "A",
    base: caBase, unit: caUnit, yTicks: caTicks,
    series: [caStep0, caStep1, caStep1e4, caStep1e5, caStep4e5, caStep499e3],
    labels: labelsAtom, colors: colorsAtom, legend: "bl", xLabel: true,
    box: { x: 724, y: 0, w: 724, h: 505 }, plot: { l: 195, t: 79, r: 682, b: 437 }, yLabelX: 47,
  },
  {
    title: "B atom Profile (Temperature = 900K)", yLabel: "Cb", ySub: "",
    base: cbBase, unit: cbUnit, yTicks: cbTicks,
    series: [cbStep0, cbStep1, cbStep1e4, cbStep1e5, cbStep4e5, cbStep499e3],
    labels: labelsAtom, colors: colorsAtom, legend: "bl", xLabel: true,
    box: { x: 1448, y: 0, w: 724, h: 505 }, plot: { l: 117, t: 79, r: 667, b: 437 }, yLabelX: 29,
  },
  {
    title: "AA Interstitial Profile (Temperature = 900K)", yLabel: "CAA", ySub: "",
    base: 0, unit: intUnit, yTicks: aaTicks,
    series: [aaStep0, aaStep1, aaStep1e3, aaStep1e4, aaStep1e5, aaStep2e5],
    labels: labelsInt, colors: colorsInt, legend: "tl", xLabel: true,
    box: { x: 2172, y: 0, w: 725, h: 505 }, plot: { l: 125, t: 79, r: 653, b: 437 }, yLabelX: 15,
  },
  {
    title: "BB Interstitial Profile (Temperature = 900K)", yLabel: "CBB", ySub: "",
    base: 0, unit: intUnit, yTicks: bbTicks,
    series: [bbStep0, bbStep1, bbStep1e3, bbStep1e4, bbStep1e5, bbStep2e5],
    labels: labelsInt, colors: colorsInt, legend: "tl", xLabel: false,
    box: { x: 0, y: 505, w: 724, h: 468 }, plot: { l: 172, t: 63, r: 697, b: 422 }, yLabelX: 59,
  },
  {
    title: "AB Interstitial Profile (Temperature = 900K)", yLabel: "CAB", ySub: "",
    base: 0, unit: intUnit, yTicks: abTicks,
    series: [abStep0, abStep1, abStep1e3, abStep1e4, abStep1e5, abStep2e5],
    labels: labelsInt, colors: colorsInt, legend: "tl", xLabel: false,
    box: { x: 724, y: 505, w: 724, h: 468 }, plot: { l: 185, t: 63, r: 685, b: 422 }, yLabelX: 48,
  },
];

// gnuplot-like "%g" formatting
function gfmt(v: number): string {
  const a = Math.abs(v);
  if (a < 1e-20) return "0";
  const e = Math.floor(Math.log10(a) + 1e-12);
  if (e < -4 || e >= 6) {
    const s = v.toExponential(5);
    let [m, ex] = s.split("e");
    if (m.indexOf(".") >= 0) m = m.replace(/0+$/, "").replace(/\.$/, "");
    const sign = ex[0] === "-" ? "-" : "+";
    let digits = ex.replace(/^[+-]/, "");
    if (digits.length < 2) digits = "0" + digits;
    return m + "e" + sign + digits;
  }
  let s = v.toPrecision(6);
  if (s.indexOf(".") >= 0) s = s.replace(/0+$/, "").replace(/\.$/, "");
  return s;
}

function drawMarker(ctx: CanvasRenderingContext2D, m: any, x: number, y: number, color: string) {
  const r = m.r;
  ctx.save();
  ctx.strokeStyle = color;
  ctx.fillStyle = color;
  ctx.lineWidth = 1.2;
  ctx.beginPath();
  if (m.style === "cross" || m.style === "star") {
    ctx.moveTo(x - r, y); ctx.lineTo(x + r, y);
    ctx.moveTo(x, y - r); ctx.lineTo(x, y + r);
  }
  if (m.style === "crossRot" || m.style === "star") {
    const d = r * Math.SQRT1_2;
    ctx.moveTo(x - d, y - d); ctx.lineTo(x + d, y + d);
    ctx.moveTo(x - d, y + d); ctx.lineTo(x + d, y - d);
  }
  if (m.style === "rect") {
    const s = r * Math.SQRT1_2;
    ctx.rect(x - s, y - s, 2 * s, 2 * s);
    if (m.fill) ctx.fill();
  }
  if (m.style === "circle") {
    ctx.arc(x, y, r, 0, Math.PI * 2);
    if (m.fill) ctx.fill();
  }
  ctx.stroke();
  ctx.restore();
}

function makePlugin(p: any) {
  const font = (size: number) => `bold ${size}px ${FONT_FAMILY}`;
  return {
    id: "gnuplotFrame",
    beforeDatasetsDraw(chart: any) {
      const { ctx, chartArea: a, scales } = chart;
      const L = 7;
      ctx.save();
      ctx.strokeStyle = "#000";
      ctx.lineWidth = 1.2;
      ctx.beginPath();
      for (const t of scales.x.ticks) {
        const px = scales.x.getPixelForValue(t.value);
        ctx.moveTo(px, a.bottom); ctx.lineTo(px, a.bottom - L);
        ctx.moveTo(px, a.top); ctx.lineTo(px, a.top + L);
      }
      for (const t of scales.y.ticks) {
        const py = scales.y.getPixelForValue(t.value);
        ctx.moveTo(a.left, py); ctx.lineTo(a.left + L, py);
        ctx.moveTo(a.right, py); ctx.lineTo(a.right - L, py);
      }
      ctx.stroke();
      ctx.lineWidth = 2;
      ctx.strokeRect(a.left, a.top, a.right - a.left, a.bottom - a.top);
      ctx.restore();
    },
    afterDraw(chart: any) {
      const { ctx, chartArea: a } = chart;
      const cx = (a.left + a.right) / 2;
      ctx.save();
      ctx.fillStyle = "#000";
      // title
      ctx.font = font(FONT_SIZE);
      ctx.textAlign = "center";
      ctx.textBaseline = "alphabetic";
      ctx.fillText(p.title, cx, a.top - 23);
      // x label
      if (p.xLabel) ctx.fillText("x", cx, a.bottom + 59);
      // y label (rotated)
      ctx.save();
      ctx.translate(p.yLabelX, (a.top + a.bottom) / 2);
      ctx.rotate(-Math.PI / 2);
      ctx.textAlign = "left";
      ctx.font = font(FONT_SIZE);
      const wMain = ctx.measureText(p.yLabel).width;
      let wSub = 0;
      if (p.ySub) {
        ctx.font = font(15);
        wSub = ctx.measureText(p.ySub).width;
      }
      const x0 = -(wMain + wSub) / 2;
      ctx.font = font(FONT_SIZE);
      ctx.fillText(p.yLabel, x0, 7.5);
      if (p.ySub) {
        ctx.font = font(15);
        ctx.fillText(p.ySub, x0 + wMain, 12.5);
      }
      ctx.restore();
      // legend
      const ROW = 21.1;
      let textRight: number;
      let y0: number;
      if (p.legend === "tr") { textRight = a.right - 96; y0 = a.top + 18; }
      else if (p.legend === "tl") { textRight = a.left + 127; y0 = a.top + 18; }
      else { textRight = a.left + 127; y0 = a.bottom - 16 - 5 * ROW; }
      ctx.font = font(FONT_SIZE);
      ctx.textAlign = "right";
      ctx.textBaseline = "middle";
      chart.data.datasets.forEach((ds: any, i: number) => {
        const y = y0 + i * ROW;
        ctx.fillStyle = "#000";
        ctx.fillText(ds.label, textRight, y + 1);
        ctx.strokeStyle = ds.borderColor;
        ctx.lineWidth = 2;
        ctx.beginPath();
        ctx.moveTo(textRight + 14, y);
        ctx.lineTo(textRight + 70, y);
        ctx.stroke();
        drawMarker(ctx, MARKERS[i], textRight + 42, y, ds.borderColor);
      });
      ctx.restore();
    },
  };
}

function buildConfig(p: any): any {
  const datasets = p.series.map((vals: number[], i: number) => {
    const m = MARKERS[i];
    const color = p.colors[i];
    return {
      label: p.labels[i],
      data: vals.map((v, k) => ({ x: xGrid[k], y: p.base + v * p.unit })),
      borderColor: color,
      backgroundColor: color,
      borderWidth: 1.6,
      pointStyle: m.style,
      pointRadius: m.r,
      pointHoverRadius: m.r,
      pointBorderWidth: 1.1,
      pointBorderColor: color,
      pointBackgroundColor: m.fill ? color : "rgba(0,0,0,0)",
      tension: 0,
      fill: false,
      clip: false,
      order: 10 - i,
    };
  });
  const tickFont = { family: FONT_FAMILY, size: FONT_SIZE, weight: "bold" };
  return {
    type: "line",
    data: { datasets },
    options: {
      animation: false,
      responsive: false,
      devicePixelRatio: 1,
      events: [],
      layout: { padding: { top: p.plot.t, right: p.box.w - p.plot.r, left: 0, bottom: 0 } },
      scales: {
        x: {
          type: "linear",
          position: "bottom",
          min: 0,
          max: 12,
          afterBuildTicks: (s: any) => { s.ticks = xTicks.map((v) => ({ value: v })); },
          afterFit: (s: any) => { s.height = p.box.h - p.plot.b; },
          grid: { display: false, drawTicks: false, tickLength: 0 },
          border: { display: false },
          ticks: { color: "#000", font: tickFont, padding: 10, maxRotation: 0, autoSkip: false },
        },
        y: {
          type: "linear",
          min: p.yTicks[0],
          max: p.yTicks[p.yTicks.length - 1],
          afterBuildTicks: (s: any) => { s.ticks = p.yTicks.map((v: number) => ({ value: v })); },
          afterFit: (s: any) => { s.width = p.plot.l; },
          grid: { display: false, drawTicks: false, tickLength: 0 },
          border: { display: false },
          ticks: {
            color: "#000",
            font: tickFont,
            padding: 14,
            autoSkip: false,
            callback: (v: any) => gfmt(Number(v)),
          },
        },
      },
      plugins: {
        legend: { display: false },
        tooltip: { enabled: false },
        title: { display: false },
      },
    },
    plugins: [makePlugin(p)],
  };
}

function Panel({ panel }: { panel: any }) {
  const ref = useRef<HTMLCanvasElement | null>(null);
  useEffect(() => {
    if (!ref.current) return;
    const chart = new Chart(ref.current, buildConfig(panel));
    return () => chart.destroy();
  }, [panel]);
  const b = panel.box;
  return (
    <canvas
      ref={ref}
      width={b.w}
      height={b.h}
      style={{ position: "absolute", left: b.x, top: b.y, width: b.w, height: b.h, display: "block" }}
    />
  );
}

export default function App() {
  return (
    <div style={{ position: "fixed", left: 0, top: 0, width: 2897, height: 973, background: "#ffffff", overflow: "hidden" }}>
      {PANELS.map((p, i) => (
        <Panel key={i} panel={p} />
      ))}
    </div>
  );
}
